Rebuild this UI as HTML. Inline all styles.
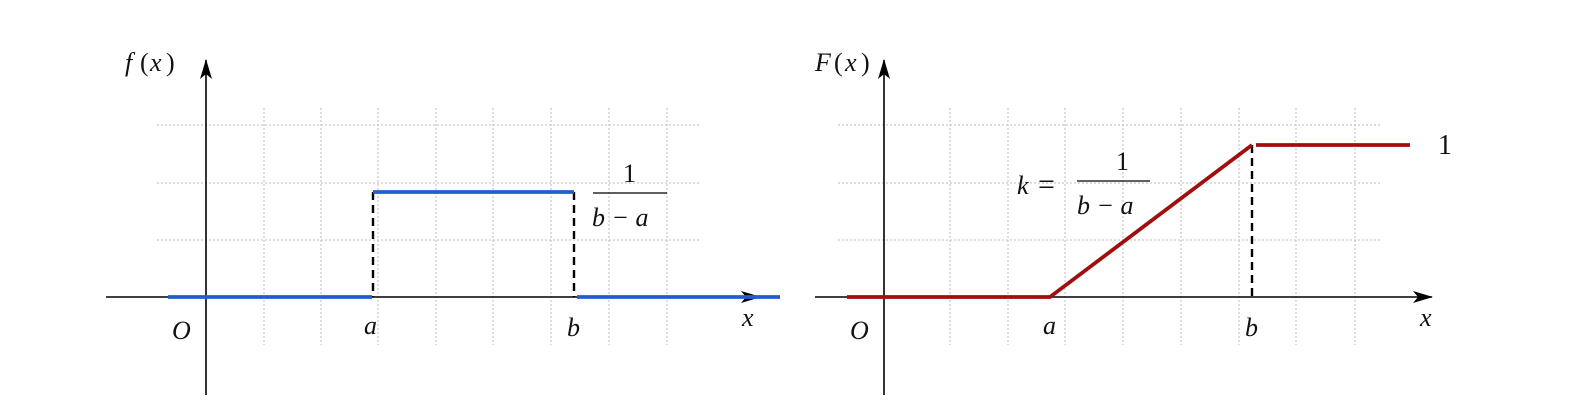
<!DOCTYPE html><html><head><meta charset="utf-8"><style>body{margin:0;background:#fff}svg text{font-family:"Liberation Serif",serif;font-style:italic;font-size:26px;fill:#111}</style></head><body>
<svg width="1582" height="410" viewBox="0 0 1582 410" xmlns="http://www.w3.org/2000/svg">
<defs>
<marker id="ar2" viewBox="0 0 20 12" refX="19" refY="6" markerWidth="20" markerHeight="12" markerUnits="userSpaceOnUse" orient="auto"><path d="M0,0 L20,6 L0,12 L5,6 z" fill="#000"/></marker></defs>
<g stroke="#bbb" stroke-width="1" stroke-dasharray="2,2">
<line x1="157" y1="125" x2="700" y2="125"/><line x1="157" y1="183" x2="700" y2="183"/><line x1="157" y1="240" x2="700" y2="240"/>
<line x1="264" y1="108" x2="264" y2="345"/><line x1="321" y1="108" x2="321" y2="345"/><line x1="378" y1="108" x2="378" y2="345"/><line x1="436" y1="108" x2="436" y2="345"/><line x1="493" y1="108" x2="493" y2="345"/><line x1="551" y1="108" x2="551" y2="345"/><line x1="609" y1="108" x2="609" y2="345"/><line x1="667" y1="108" x2="667" y2="345"/>
<line x1="838" y1="125" x2="1380" y2="125"/><line x1="838" y1="183" x2="1380" y2="183"/><line x1="838" y1="240" x2="1380" y2="240"/>
<line x1="950" y1="108" x2="950" y2="345"/><line x1="1008" y1="108" x2="1008" y2="345"/><line x1="1065" y1="108" x2="1065" y2="345"/><line x1="1123" y1="108" x2="1123" y2="345"/><line x1="1181" y1="108" x2="1181" y2="345"/><line x1="1239" y1="108" x2="1239" y2="345"/><line x1="1296" y1="108" x2="1296" y2="345"/><line x1="1355" y1="108" x2="1355" y2="345"/>
</g>
<g stroke="#000" stroke-width="1.6" fill="none">
<line x1="206" y1="395" x2="206" y2="60" marker-end="url(#ar2)"/>
<line x1="106" y1="297" x2="760" y2="297" marker-end="url(#ar2)"/>
<line x1="884" y1="395" x2="884" y2="60" marker-end="url(#ar2)"/>
<line x1="815" y1="297" x2="1432" y2="297" marker-end="url(#ar2)"/>
</g>
<g stroke="#000" stroke-width="2.4" stroke-dasharray="8,5">
<line x1="373" y1="192" x2="373" y2="297"/><line x1="574" y1="192" x2="574" y2="297"/><line x1="1252" y1="145" x2="1252" y2="297"/>
</g>
<g stroke="#1f5fcc" stroke-width="3.8" fill="none">
<line x1="168" y1="297" x2="372" y2="297"/><line x1="373" y1="192" x2="574" y2="192"/><line x1="577" y1="297" x2="780" y2="297"/>
</g>
<g stroke="#a00f0f" stroke-width="3.8" fill="none">
<polyline points="847,297 1050,297 1252,145"/><line x1="1256" y1="145" x2="1410" y2="145"/>
</g>
<line x1="593" y1="193" x2="667" y2="193" stroke="#000" stroke-width="1.2"/>
<line x1="1077" y1="181" x2="1150" y2="181" stroke="#000" stroke-width="1.2"/>
<text x="125" y="71">f</text><text x="140" y="71" style="font-style:normal">(</text><text x="150" y="71">x</text><text x="166" y="71" style="font-style:normal">)</text>
<text x="815" y="71">F</text><text x="834" y="71" style="font-style:normal">(</text><text x="845" y="71">x</text><text x="861" y="71" style="font-style:normal">)</text>
<text x="623" y="182" style="font-style:normal">1</text><text x="592" y="226">b − a</text>
<text x="1116" y="170" style="font-style:normal">1</text><text x="1077" y="214">b − a</text>
<text x="1017" y="194">k</text><text x="1038" y="194" style="font-style:normal;font-size:30px">=</text>
<text x="1438" y="154" style="font-style:normal;font-size:28px">1</text>
<text x="172" y="339">O</text><text x="364" y="334">a</text><text x="567" y="336">b</text><text x="742" y="326">x</text>
<text x="850" y="339">O</text><text x="1043" y="334">a</text><text x="1245" y="336">b</text><text x="1420" y="326">x</text>
</svg></body></html>
